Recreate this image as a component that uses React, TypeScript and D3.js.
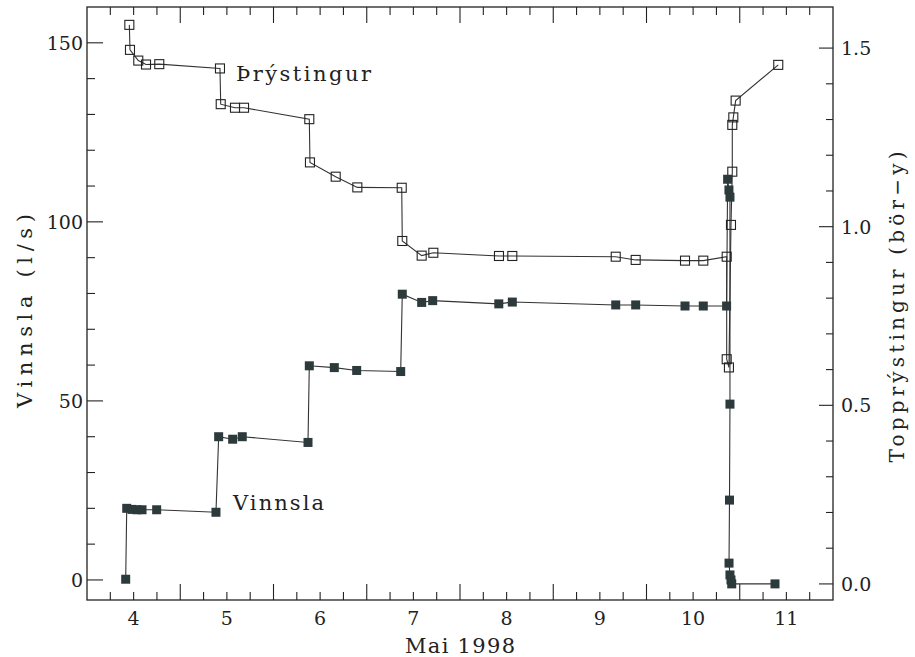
import { useRef, useEffect } from 'react';
import * as d3 from 'd3';

// Vinnsla (l/s), left axis — filled squares
const vinnslaDay = [
  3.915, 3.926, 3.983, 4.036, 4.09, 4.247, 4.883, 4.912, 5.062, 5.165, 5.87,
  5.884, 6.152, 6.392, 6.864, 6.881, 7.089, 7.207, 7.916, 8.061, 9.17, 9.384,
  9.913, 10.109, 10.359, 10.37, 10.384, 10.395, 10.395, 10.39, 10.385, 10.395,
  10.406, 10.414, 10.878,
];
const vinnslaVal = [
  0.2, 20.0, 19.7, 19.6, 19.6, 19.6, 18.9, 40.0, 39.3, 40.0, 38.4,
  59.8, 59.3, 58.5, 58.2, 79.8, 77.5, 78.0, 77.1, 77.6, 76.8, 76.8,
  76.5, 76.5, 76.5, 111.9, 108.9, 106.9, 49.1, 22.3, 4.7, 1.4,
  0.0, -1.1, -1.1,
];

// Topprýstingur (bör-y), right axis — open squares
const thrystDay = [
  3.954, 3.961, 4.05, 4.133, 4.275, 4.926, 4.934, 5.087, 5.184, 5.884, 5.891,
  6.167, 6.399, 6.875, 6.881, 7.089, 7.214, 7.918, 8.061, 9.17, 9.384, 9.913,
  10.109, 10.36, 10.36, 10.384, 10.406, 10.42, 10.42, 10.431, 10.456, 10.913,
];
const thrystVal = [
  1.565, 1.495, 1.465, 1.454, 1.455, 1.443, 1.343, 1.333, 1.333, 1.301, 1.18,
  1.14, 1.11, 1.109, 0.96, 0.919, 0.927, 0.918, 0.918, 0.916, 0.907, 0.905,
  0.905, 0.916, 0.629, 0.606, 1.005, 1.154, 1.285, 1.306, 1.353, 1.453,
];

const dayLabels = [4, 5, 6, 7, 8, 9, 10, 11];
const leftTicks = [0, 50, 100, 150];
const rightTicks = [0, 0.5, 1.0, 1.5];

const FONT = '"DejaVu Serif", serif';
const INK = '#222';

function App() {
  const ref = useRef<SVGSVGElement | null>(null);
  const width = 915;
  const height = 657;

  useEffect(() => {
    const svg = d3.select(ref.current);
    svg.selectAll('*').remove();

    const left = 87, right = 833, top = 7, bottom = 600;

    const x = d3.scaleLinear().domain([3.5, 11.5]).range([left, right]);
    const yL = d3.scaleLinear().domain([-5.6, 160]).range([bottom, top]);
    const yR = d3.scaleLinear().domain([-0.045, 1.615]).range([bottom, top]);

    // frame
    svg.append('rect')
      .attr('x', left).attr('y', top)
      .attr('width', right - left).attr('height', bottom - top)
      .attr('fill', 'none').attr('stroke', INK).attr('stroke-width', 1.3);

    const tickG = svg.append('g').attr('stroke', INK).attr('stroke-width', 1.1);

    // x ticks every 6 hours, long ones at day boundaries (x.5)
    d3.range(3.75, 11.5, 0.25).forEach(d => {
      const major = Math.abs((d % 1) - 0.5) < 1e-6;
      const len = major ? 16 : 8;
      const px = x(d);
      tickG.append('line').attr('x1', px).attr('x2', px).attr('y1', bottom).attr('y2', bottom - len);
      tickG.append('line').attr('x1', px).attr('x2', px).attr('y1', top).attr('y2', top + len);
    });

    // left ticks
    d3.range(0, 160, 10).forEach(v => {
      const len = v % 50 === 0 ? 16 : 8;
      tickG.append('line').attr('x1', left).attr('x2', left + len).attr('y1', yL(v)).attr('y2', yL(v));
    });

    // right ticks
    d3.range(0, 16, 1).map(i => i / 10).forEach((v, i) => {
      const len = i % 5 === 0 ? 14 : 7;
      tickG.append('line').attr('x1', right).attr('x2', right - len).attr('y1', yR(v)).attr('y2', yR(v));
    });

    // tick labels
    const lab = svg.append('g')
      .attr('font-family', FONT).attr('font-size', 19).attr('fill', INK);

    dayLabels.forEach(d => {
      lab.append('text').attr('x', x(d)).attr('y', 625)
        .attr('text-anchor', 'middle').text(String(d));
    });
    leftTicks.forEach(v => {
      lab.append('text').attr('x', 83).attr('y', yL(v) + 7)
        .attr('text-anchor', 'end').text(String(v));
    });
    rightTicks.forEach(v => {
      lab.append('text').attr('x', 841).attr('y', yR(v) + 7)
        .attr('text-anchor', 'start').text(v.toFixed(1));
    });

    // axis titles
    svg.append('text')
      .attr('x', 460).attr('y', 653)
      .attr('text-anchor', 'middle')
      .attr('font-family', FONT).attr('font-size', 21).attr('fill', INK)
      .attr('textLength', 110).attr('lengthAdjust', 'spacing')
      .text('Mai 1998');

    svg.append('text')
      .attr('transform', 'translate(32,311) rotate(-90)')
      .attr('text-anchor', 'middle')
      .attr('font-family', FONT).attr('font-size', 21).attr('fill', INK)
      .attr('textLength', 194).attr('lengthAdjust', 'spacing')
      .text('Vinnsla (l/s)');

    svg.append('text')
      .attr('transform', 'translate(904,307) rotate(-90)')
      .attr('text-anchor', 'middle')
      .attr('font-family', FONT).attr('font-size', 20).attr('fill', INK)
      .attr('textLength', 311).attr('lengthAdjust', 'spacing')
      .text('Topprýstingur (bör\u2212y)');

    // series labels
    svg.append('text')
      .attr('x', 236).attr('y', 81)
      .attr('font-family', FONT).attr('font-size', 21).attr('fill', INK)
      .attr('textLength', 135).attr('lengthAdjust', 'spacing')
      .text('Þrýstingur');

    svg.append('text')
      .attr('x', 233).attr('y', 510)
      .attr('font-family', FONT).attr('font-size', 21).attr('fill', INK)
      .attr('textLength', 91).attr('lengthAdjust', 'spacing')
      .text('Vinnsla');

    // lines
    const vData = vinnslaDay.map((d, i) => [d, vinnslaVal[i]] as [number, number]);
    const pData = thrystDay.map((d, i) => [d, thrystVal[i]] as [number, number]);

    const vLine = d3.line<[number, number]>().x(d => x(d[0])).y(d => yL(d[1]));
    const pLine = d3.line<[number, number]>().x(d => x(d[0])).y(d => yR(d[1]));

    svg.append('path').datum(pData)
      .attr('fill', 'none').attr('stroke', '#333').attr('stroke-width', 1.1)
      .attr('d', pLine);
    svg.append('path').datum(vData)
      .attr('fill', 'none').attr('stroke', '#333').attr('stroke-width', 1.1)
      .attr('d', vLine);

    const s = 9;
    svg.append('g').selectAll('rect').data(pData).join('rect')
      .attr('x', d => x(d[0]) - s / 2).attr('y', d => yR(d[1]) - s / 2)
      .attr('width', s).attr('height', s)
      .attr('fill', 'none').attr('stroke', INK).attr('stroke-width', 1.1);

    svg.append('g').selectAll('rect').data(vData).join('rect')
      .attr('x', d => x(d[0]) - s / 2).attr('y', d => yL(d[1]) - s / 2)
      .attr('width', s).attr('height', s)
      .attr('fill', '#2d3a3c');
  }, []);

  return (
    <svg
      ref={ref}
      width={width}
      height={height}
      style={{ position: 'absolute', left: 0, top: 0, background: '#fff' }}
    />
  );
}

export default App;
